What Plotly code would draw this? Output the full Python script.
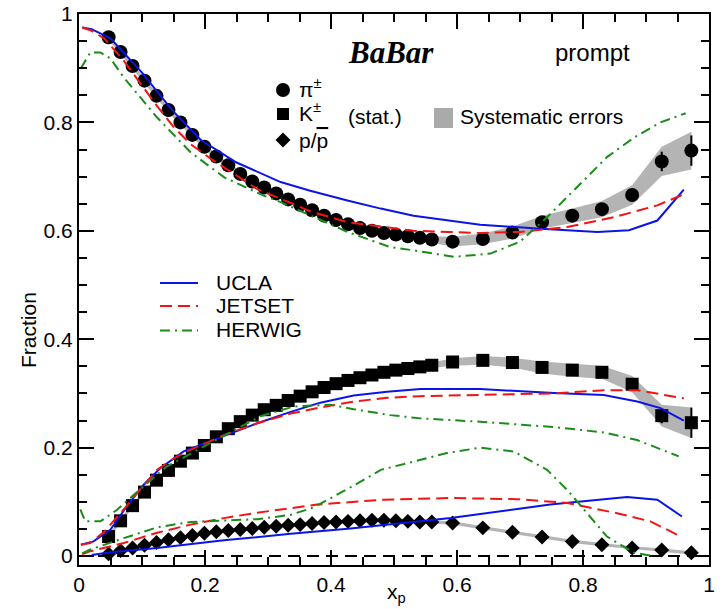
import plotly.graph_objects as go

# ---------------- data ----------------
# x_p bin centres (shared by all three species)
xp = [0.047, 0.066, 0.085, 0.104, 0.123, 0.142, 0.161, 0.180, 0.199, 0.218,
      0.237, 0.256, 0.275, 0.294, 0.313, 0.332, 0.351, 0.370, 0.389, 0.408,
      0.427, 0.446, 0.465, 0.484, 0.503, 0.522, 0.541, 0.560, 0.593, 0.641,
      0.688, 0.735, 0.783, 0.830, 0.878, 0.925, 0.972]

pion = [0.957, 0.930, 0.904, 0.877, 0.849, 0.823, 0.800, 0.777, 0.755, 0.737,
        0.721, 0.705, 0.691, 0.680, 0.669, 0.658, 0.648, 0.638, 0.628, 0.620,
        0.612, 0.605, 0.600, 0.596, 0.593, 0.590, 0.587, 0.584, 0.580, 0.585,
        0.597, 0.616, 0.628, 0.640, 0.666, 0.728, 0.748]
pion_stat = [0.002] * 28 + [0.003, 0.003, 0.004, 0.004, 0.005, 0.006, 0.008, 0.018, 0.028]
pion_sys = [0.005] * 20 + [0.006] * 8 + [0.009, 0.010, 0.011, 0.012, 0.013, 0.015, 0.018, 0.027, 0.035]

kaon = [0.036, 0.065, 0.093, 0.118, 0.140, 0.158, 0.175, 0.190, 0.204, 0.220,
        0.235, 0.248, 0.260, 0.270, 0.278, 0.287, 0.295, 0.303, 0.311, 0.318,
        0.324, 0.329, 0.334, 0.339, 0.343, 0.346, 0.349, 0.352, 0.358, 0.361,
        0.357, 0.348, 0.343, 0.339, 0.317, 0.259, 0.246]
kaon_stat = [0.002] * 28 + [0.003, 0.003, 0.004, 0.004, 0.005, 0.006, 0.008, 0.014, 0.028]
kaon_sys = [0.004] * 20 + [0.005] * 8 + [0.007, 0.008, 0.009, 0.011, 0.012, 0.012, 0.015, 0.020, 0.028]

proton = [0.004, 0.010, 0.015, 0.020, 0.025, 0.030, 0.034, 0.038, 0.042, 0.045,
          0.047, 0.049, 0.051, 0.053, 0.055, 0.057, 0.058, 0.060, 0.062, 0.063,
          0.064, 0.065, 0.066, 0.066, 0.065, 0.064, 0.063, 0.063, 0.061, 0.052,
          0.044, 0.035, 0.027, 0.021, 0.015, 0.011, 0.006]
proton_stat = [0.001] * 37
proton_sys = [0.003] * 37

# model predictions: UCLA, JETSET, HERWIG
ucla_pi_x = [0.005, 0.02, 0.05, 0.08, 0.10, 0.124, 0.15, 0.193, 0.25, 0.32, 0.367,
             0.426, 0.479, 0.531, 0.637, 0.733, 0.823, 0.873, 0.918, 0.960]
ucla_pi_y = [0.975, 0.972, 0.955, 0.918, 0.892, 0.857, 0.820, 0.768, 0.726, 0.690, 0.674,
             0.656, 0.641, 0.628, 0.611, 0.604, 0.598, 0.601, 0.619, 0.676]
jetset_pi_x = [0.005, 0.018, 0.04, 0.071, 0.10, 0.124, 0.15, 0.177, 0.209, 0.23, 0.283,
               0.341, 0.367, 0.426, 0.494, 0.531, 0.584, 0.637, 0.70, 0.775, 0.849,
               0.918, 0.963]
jetset_pi_y = [0.975, 0.970, 0.955, 0.914, 0.868, 0.830, 0.792, 0.760, 0.733, 0.717, 0.677,
               0.649, 0.636, 0.616, 0.606, 0.600, 0.598, 0.596, 0.598, 0.607, 0.625,
               0.647, 0.669]
herwig_pi_x = [0.003, 0.018, 0.034, 0.05, 0.071, 0.098, 0.124, 0.177, 0.23, 0.293, 0.32,
               0.426, 0.494, 0.531, 0.595, 0.653, 0.70, 0.743, 0.785, 0.838, 0.881,
               0.923, 0.963]
herwig_pi_y = [0.900, 0.929, 0.929, 0.918, 0.883, 0.846, 0.809, 0.745, 0.699, 0.665, 0.653,
               0.598, 0.570, 0.564, 0.552, 0.558, 0.580, 0.625, 0.674, 0.736, 0.772,
               0.800, 0.817]

ucla_k_x = [0.003, 0.023, 0.05, 0.076, 0.103, 0.129, 0.166, 0.23, 0.283, 0.336, 0.383,
            0.436, 0.489, 0.542, 0.637, 0.754, 0.833, 0.886, 0.923, 0.96]
ucla_k_y = [0.021, 0.027, 0.049, 0.092, 0.132, 0.162, 0.193, 0.222, 0.245, 0.266, 0.283,
            0.296, 0.303, 0.308, 0.308, 0.301, 0.297, 0.285, 0.273, 0.250]
jetset_k_x = [0.003, 0.018, 0.04, 0.071, 0.10, 0.124, 0.15, 0.177, 0.23, 0.283, 0.336,
              0.383, 0.436, 0.489, 0.542, 0.648, 0.754, 0.833, 0.886, 0.96]
jetset_k_y = [0.021, 0.024, 0.045, 0.086, 0.127, 0.159, 0.180, 0.196, 0.223, 0.245, 0.263,
              0.274, 0.285, 0.292, 0.295, 0.298, 0.300, 0.306, 0.306, 0.291]
herwig_k_x = [0.002, 0.01, 0.034, 0.06, 0.087, 0.139, 0.193, 0.235, 0.288, 0.341, 0.399,
              0.436, 0.494, 0.542, 0.648, 0.754, 0.833, 0.886, 0.952]
herwig_k_y = [0.086, 0.064, 0.064, 0.085, 0.113, 0.165, 0.199, 0.225, 0.258, 0.276, 0.279,
              0.271, 0.260, 0.254, 0.247, 0.238, 0.228, 0.214, 0.184]

ucla_p_x = [0.02, 0.05, 0.124, 0.23, 0.336, 0.431, 0.59, 0.748, 0.870, 0.918, 0.957]
ucla_p_y = [0.002, 0.007, 0.015, 0.029, 0.041, 0.051, 0.070, 0.095, 0.109, 0.104, 0.073]
jetset_p_x = [0.005, 0.018, 0.071, 0.124, 0.177, 0.23, 0.283, 0.336, 0.378, 0.484, 0.59,
              0.696, 0.775, 0.854, 0.907, 0.952]
jetset_p_y = [0.003, 0.009, 0.024, 0.043, 0.058, 0.070, 0.080, 0.089, 0.095, 0.104, 0.107,
              0.105, 0.098, 0.079, 0.064, 0.038]
herwig_p_x = [0.005, 0.018, 0.071, 0.124, 0.177, 0.23, 0.283, 0.336, 0.373, 0.436, 0.479,
              0.584, 0.637, 0.69, 0.743, 0.775, 0.807, 0.838, 0.881, 0.912]
herwig_p_y = [0.005, 0.012, 0.033, 0.053, 0.063, 0.066, 0.068, 0.076, 0.090, 0.130, 0.159,
              0.190, 0.200, 0.193, 0.159, 0.122, 0.079, 0.036, 0.006, 0.0]

# ---------------- styling ----------------
W, H = 722, 609
ML, MR, MT, MB = 79, 13, 14, 44
FONT = "Liberation Sans, Arial, sans-serif"
BAND = "#b4b4b4"
BLUE, RED, GREEN = "#0a14e6", "#f01414", "#1a8c1a"
STYLE = {
    "UCLA": dict(color=BLUE, width=2, dash="solid"),
    "JETSET": dict(color=RED, width=2, dash="12px,6px"),
    "HERWIG": dict(color=GREEN, width=2, dash="10px,5px,2px,5px"),
}


def px(xpix, ypix):
    """pixel position -> paper fraction"""
    return (xpix - ML) / (W - ML - MR), (H - MB - ypix) / (H - MT - MB)


fig = go.Figure()

# systematic error bands
for vals, sys in [(pion, pion_sys), (kaon, kaon_sys), (proton, proton_sys)]:
    upper = [v + s for v, s in zip(vals, sys)]
    lower = [v - s for v, s in zip(vals, sys)]
    fig.add_trace(go.Scatter(
        x=xp + xp[::-1], y=upper + lower[::-1], fill="toself",
        fillcolor=BAND, line=dict(width=0, color=BAND), mode="lines",
        hoverinfo="skip", showlegend=False))

# measured fractions with statistical errors
for vals, err, sym, size in [(pion, pion_stat, "circle", 14),
                             (kaon, kaon_stat, "square", 13),
                             (proton, proton_stat, "diamond", 11.5)]:
    fig.add_trace(go.Scatter(
        x=xp, y=vals, mode="markers",
        marker=dict(symbol=sym, size=size, color="black", line=dict(width=0)),
        error_y=dict(type="data", array=err, color="black", thickness=2, width=0),
        showlegend=False))

# model curves
curves = [
    ("UCLA", ucla_pi_x, ucla_pi_y), ("JETSET", jetset_pi_x, jetset_pi_y),
    ("HERWIG", herwig_pi_x, herwig_pi_y),
    ("UCLA", ucla_k_x, ucla_k_y), ("JETSET", jetset_k_x, jetset_k_y),
    ("HERWIG", herwig_k_x, herwig_k_y),
    ("UCLA", ucla_p_x, ucla_p_y), ("JETSET", jetset_p_x, jetset_p_y),
    ("HERWIG", herwig_p_x, herwig_p_y),
]
for name, cx, cy in curves:
    fig.add_trace(go.Scatter(x=cx, y=cy, mode="lines", line=STYLE[name],
                             showlegend=False, name=name))

shapes = []
annotations = []

# dashed zero line
shapes.append(dict(type="line", xref="paper", yref="y", x0=0, x1=1, y0=0, y1=0,
                   line=dict(color="black", width=2, dash="12px,7px"), layer="below"))

# model key
for name, ypix in [("UCLA", 283), ("JETSET", 306), ("HERWIG", 330.5)]:
    x0, yk = px(160, ypix)
    x1, _ = px(198, ypix)
    shapes.append(dict(type="line", xref="paper", yref="paper", x0=x0, x1=x1,
                       y0=yk, y1=yk, line=STYLE[name]))
    tx, ty = px(214, ypix - 1)
    annotations.append(dict(text=name, x=tx, y=ty, xref="paper", yref="paper",
                            xanchor="left", yanchor="middle", showarrow=False,
                            font=dict(family=FONT, size=21, color="black")))

# particle key
kx, ky = px(283, 90)
shapes.append(dict(type="circle", xref="paper", yref="paper", xsizemode="pixel",
                   ysizemode="pixel", xanchor=kx, yanchor=ky, x0=-7, x1=7, y0=-7, y1=7,
                   fillcolor="black", line=dict(width=0)))
kx, ky = px(283, 114)
shapes.append(dict(type="rect", xref="paper", yref="paper", xsizemode="pixel",
                   ysizemode="pixel", xanchor=kx, yanchor=ky, x0=-6, x1=6, y0=-6, y1=6,
                   fillcolor="black", line=dict(width=0)))
kx, ky = px(283, 140)
shapes.append(dict(type="path", xref="paper", yref="paper", xsizemode="pixel",
                   ysizemode="pixel", xanchor=kx, yanchor=ky,
                   path="M -7.5 0 L 0 7.5 L 7.5 0 L 0 -7.5 Z",
                   fillcolor="black", line=dict(width=0)))
for label, ypix in [("π<sup>±</sup>", 88), ("K<sup>±</sup>", 112),
                    ("p/<span style='text-decoration:overline'>p</span>", 140)]:
    tx, ty = px(297, ypix)
    annotations.append(dict(text=label, x=tx, y=ty, xref="paper", yref="paper",
                            xanchor="left", yanchor="middle", showarrow=False,
                            font=dict(family=FONT, size=21, color="black")))
tx, ty = px(346, 117)
annotations.append(dict(text="(stat.)", x=tx, y=ty, xref="paper", yref="paper",
                        xanchor="left", yanchor="middle", showarrow=False,
                        font=dict(family=FONT, size=21, color="black")))

# systematic error key
bx0, by0 = px(434, 128)
bx1, by1 = px(453, 108)
shapes.append(dict(type="rect", xref="paper", yref="paper", x0=bx0, x1=bx1,
                   y0=by0, y1=by1, fillcolor="#aaaaaa", line=dict(width=0)))
tx, ty = px(458, 117)
annotations.append(dict(text="Systematic errors", x=tx, y=ty, xref="paper", yref="paper",
                        xanchor="left", yanchor="middle", showarrow=False,
                        font=dict(family=FONT, size=21, color="black")))

# headline labels
tx, ty = px(391, 52)
annotations.append(dict(text="<b><i>BaBar</i></b>", x=tx, y=ty, xref="paper", yref="paper",
                        xanchor="center", yanchor="middle", showarrow=False,
                        font=dict(family="Liberation Serif, Times New Roman, serif",
                                  size=31, color="black")))
tx, ty = px(592, 52)
annotations.append(dict(text="prompt", x=tx, y=ty, xref="paper", yref="paper",
                        xanchor="center", yanchor="middle", showarrow=False,
                        font=dict(family=FONT, size=24, color="black")))

# axis titles
tx, ty = px(28, 330)
annotations.append(dict(text="Fraction", x=tx, y=ty, xref="paper", yref="paper",
                        xanchor="center", yanchor="middle", textangle=-90, showarrow=False,
                        font=dict(family=FONT, size=21, color="black")))
tx, ty = px(396, 593)
annotations.append(dict(text="x<sub>p</sub>", x=tx, y=ty, xref="paper", yref="paper",
                        xanchor="center", yanchor="middle", showarrow=False,
                        font=dict(family=FONT, size=21, color="black")))

axis_common = dict(
    showgrid=False, zeroline=False, showline=True, linecolor="black", linewidth=2,
    mirror="allticks", ticks="inside", ticklen=15, tickwidth=2, tickcolor="black",
    dtick=0.2, tick0=0, automargin=False,
    tickfont=dict(family=FONT, size=21, color="black"),
    minor=dict(ticks="inside", dtick=0.05, ticklen=8, tickwidth=2, tickcolor="black",
               showgrid=False),
)

fig.update_layout(
    width=W, height=H,
    margin=dict(l=ML, r=MR, t=MT, b=MB, pad=0, autoexpand=False),
    paper_bgcolor="white", plot_bgcolor="white",
    showlegend=False,
    xaxis=dict(range=[0, 1], **axis_common),
    yaxis=dict(range=[-0.0165, 1.0], **axis_common),
    shapes=shapes, annotations=annotations,
    font=dict(family=FONT, color="black"),
)

fig.write_html("out.html")
